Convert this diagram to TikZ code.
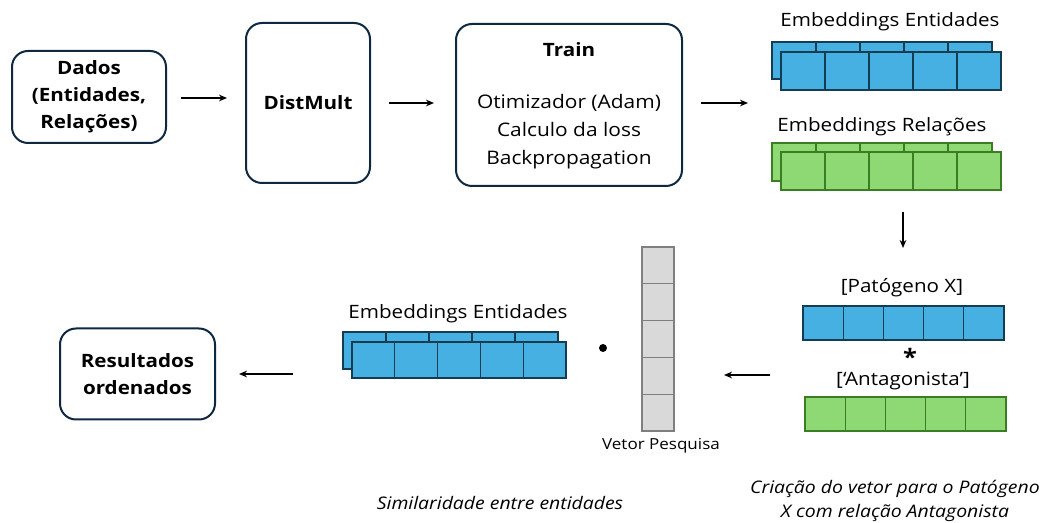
\documentclass[tikz,border=0pt]{standalone}
\usepackage{fontspec}
\setmainfont{Open Sans}[FakeStretch=1.12]
\usetikzlibrary{arrows.meta}

\definecolor{boxline}{HTML}{0E2841}
\definecolor{embblue}{HTML}{45B0E1}
\definecolor{blueline}{HTML}{153D52}
\definecolor{embgreen}{HTML}{8ED973}
\definecolor{greenline}{HTML}{3B7D23}
\definecolor{vecgrey}{HTML}{D9D9D9}
\definecolor{greyline}{HTML}{7F7F7F}

\tikzset{
  block/.style={draw=boxline, line width=1.5pt, rounded corners=12pt, align=center,
    inner sep=0pt, font=\fontsize{13.8}{20.25}\selectfont},
  flow/.style={-{Stealth[length=6pt,width=5pt]}, line width=1.5pt},
  lbl/.style={inner sep=0pt, font=\fontsize{13.8}{15}\selectfont},
  note/.style={inner sep=0pt, align=center, font=\itshape\fontsize{13}{18}\selectfont},
  rowbox/.style={inner sep=0pt, outer sep=0pt},
  cellblue/.style={fill=embblue, draw=blueline, line width=1pt},
  cellgreen/.style={fill=embgreen, draw=greenline, line width=1pt},
  cellgrey/.style={fill=vecgrey, draw=greyline, line width=1pt},
}

\begin{document}
\begin{tikzpicture}[x=0.75pt, y=-0.75pt]
  \useasboundingbox (0,0) rectangle (1040,523);

  % top row of blocks
  \node[block, minimum width=115.5pt, minimum height=69pt] (dados) at (89,97)
    {\textbf{Dados}\\\textbf{(Entidades,}\\\textbf{Relações)}};
  \node[block, minimum width=93pt, minimum height=120pt] (dist) at (308,103)
    {\textbf{DistMult}};
  \node[block, minimum width=169.5pt, minimum height=121.5pt] (train) at (569,105) {};
  \node[lbl, font=\bfseries\fontsize{13.8}{15}\selectfont] (trainTtl) at (569,50) {Train};
  \node[lbl, align=center, font=\fontsize{14}{21}\selectfont] (trainTxt) at (569,132)
    {Otimizador (Adam)\\Calculo da loss\\Backpropagation};

  % embeddings (top right)
  \node[lbl] (entLbl) at (890,22) {Embeddings Entidades};
  \node[rowbox, minimum width=165pt, minimum height=27.75pt] (entBack) at (882,60.5) {};
  \foreach \i in {0,...,4}
    \draw[cellblue] ({772+44*\i},42) rectangle ++(44,37);
  \node[rowbox, minimum width=165pt, minimum height=28.5pt] (entFront) at (891,71) {};
  \foreach \i in {0,...,4}
    \draw[cellblue] ({781+44*\i},52) rectangle ++(44,38);

  \node[lbl] (relLbl) at (882,127) {Embeddings Relações};
  \node[rowbox, minimum width=165pt, minimum height=28.5pt] (relBack) at (882,162) {};
  \foreach \i in {0,...,4}
    \draw[cellgreen] ({772+44*\i},143) rectangle ++(44,38);
  \node[rowbox, minimum width=165pt, minimum height=28.5pt] (relFront) at (891,171) {};
  \foreach \i in {0,...,4}
    \draw[cellgreen] ({781+44*\i},152) rectangle ++(44,38);

  % query vector
  \node[lbl] (patLbl) at (902,288) {[Patógeno X]};
  \node[rowbox, minimum width=150.75pt, minimum height=25.5pt] (patVec) at (903,323) {};
  \foreach \i in {0,...,4}
    \draw[cellblue] ({803+40.2*\i},306) rectangle ++(40.2,34);
  \node[lbl, font=\bfseries\fontsize{17}{17}\selectfont] (times) at (910,357) {*};
  \node[lbl] (antLbl) at (903,381) {[‘Antagonista’]};
  \node[rowbox, minimum width=150.75pt, minimum height=25.5pt] (antVec) at (905.5,414) {};
  \foreach \i in {0,...,4}
    \draw[cellgreen] ({805+40.2*\i},397) rectangle ++(40.2,34);

  % search vector
  \node[rowbox, minimum width=24pt, minimum height=138pt] (vec) at (658,339) {};
  \foreach \j in {0,...,4}
    \draw[cellgrey] (642,{247+36.8*\j}) rectangle ++(32,36.8);
  \node[lbl, font=\fontsize{11.4}{12}\selectfont] (vecLbl) at (661,446) {Vetor Pesquisa};
  \fill (603,348) circle (4) node (dot) {};

  % embeddings (bottom)
  \node[lbl] (ent2Lbl) at (458,314) {Embeddings Entidades};
  \node[rowbox, minimum width=161.25pt, minimum height=27.75pt] (ent2Back) at (450.5,350.5) {};
  \foreach \i in {0,...,4}
    \draw[cellblue] ({343+43*\i},332) rectangle ++(43,37);
  \node[rowbox, minimum width=160.5pt, minimum height=27pt] (ent2Front) at (459,360) {};
  \foreach \i in {0,...,4}
    \draw[cellblue] ({352+42.8*\i},342) rectangle ++(42.8,36);

  \node[block, minimum width=116.25pt, minimum height=68.25pt] (res) at (137.5,374)
    {\textbf{Resultados}\\\textbf{ordenados}};

  % captions
  \node[note] (simNote) at (500,503) {Similaridade entre entidades};
  \node[note] (vecNote) at (895,501) {Criação do vetor para o Patógeno\\X com relação Antagonista};

  % arrows
  \draw[flow] ([xshift=10.5pt,yshift=-0.75pt]dados.east) -- ([xshift=-13.5pt,yshift=-0.75pt]dados.east -| dist.west);
  \draw[flow] ([xshift=13.5pt]dist.east) -- ([xshift=-15.75pt]dist.east -| train.west);
  \draw[flow] ([xshift=13.5pt,yshift=1.5pt]train.east) -- ([xshift=-18pt,yshift=1.5pt]train.east -| entBack.west);
  \draw[flow] ([yshift=-16.5pt]relFront.south -| patVec.north) -- ([yshift=-43.5pt]relFront.south -| patVec.north);
  \draw[flow] ([xshift=-26.25pt,yshift=16.5pt]antVec.north west) -- ([xshift=37.5pt,yshift=16.5pt]antVec.north west -| vec.east);
  \draw[flow] ([xshift=-37.5pt]res.east -| ent2Back.west) -- ([xshift=17.25pt]res.east);
\end{tikzpicture}
\end{document}
